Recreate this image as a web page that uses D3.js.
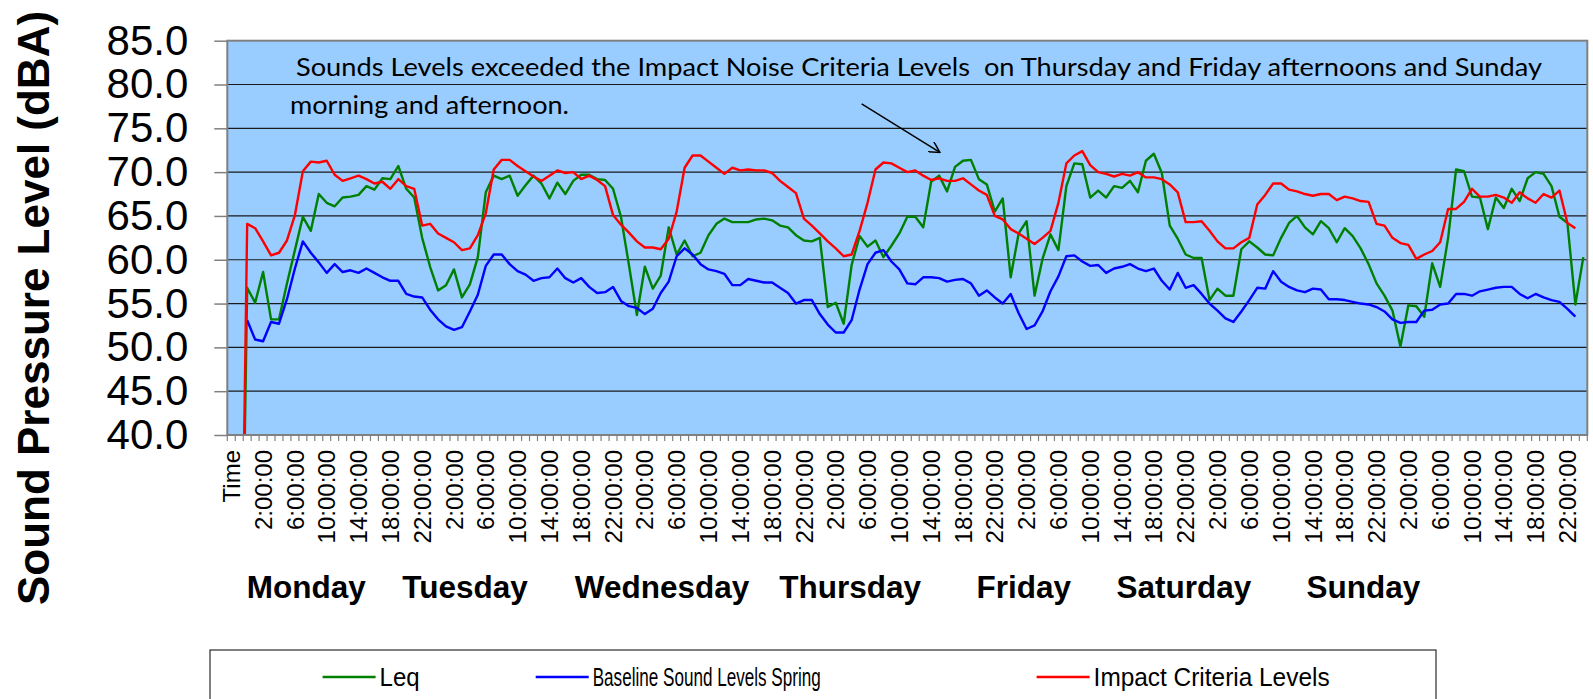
<!DOCTYPE html>
<html>
<head>
<meta charset="utf-8">
<script src="https://cdn.jsdelivr.net/npm/d3@7"></script>
<style>
  body { margin: 0; background: #fff; }
  text { font-family: "Liberation Sans", Arial, sans-serif; }
</style>
</head>
<body>
<div id="chart"></div>
<script>
// Tick labels: "Time" header, one blank row, then every hour Monday..Sunday, then midnight
const hours = ["0:00:00", "1:00:00", "2:00:00", "3:00:00", "4:00:00", "5:00:00",
  "6:00:00", "7:00:00", "8:00:00", "9:00:00", "10:00:00", "11:00:00",
  "12:00:00", "13:00:00", "14:00:00", "15:00:00", "16:00:00", "17:00:00",
  "18:00:00", "19:00:00", "20:00:00", "21:00:00", "22:00:00", "23:00:00"];
const days = ["Monday", "Tuesday", "Wednesday", "Thursday", "Friday", "Saturday", "Sunday"];
const categories = ["Time", ""].concat(...days.map(() => hours), ["0:00:00"]);

const yTicks = [40, 45, 50, 55, 60, 65, 70, 75, 80, 85];

// Leq (green)
const leq = [null, 0,
  56.8, 55.1, 58.6, 53.2, 53.2, 57.3, 61.1, 64.9, 63.3, 67.5, 66.5, 66.1,  // Mon
  67.1, 67.2, 67.4, 68.4, 68.0, 69.3, 69.2, 70.7, 68.1, 67.1, 62.5, 59.2,
  56.5, 57.1, 58.9, 55.7, 57.2, 60.3, 67.7, 69.6, 69.2, 69.6, 67.3, 68.5,  // Tue
  69.6, 68.7, 67.0, 68.8, 67.5, 69.0, 69.7, 69.7, 69.2, 69.1, 68.1, 64.9,
  59.4, 53.7, 59.2, 56.7, 58.2, 63.7, 60.6, 62.2, 60.4, 60.8, 62.8, 64.1,  // Wed
  64.7, 64.3, 64.3, 64.3, 64.6, 64.7, 64.5, 63.9, 63.7, 62.8, 62.2, 62.1,
  62.5, 54.6, 55.1, 52.7, 59.4, 62.7, 61.5, 62.2, 60.3, 61.6, 63.0, 64.9,  // Thu
  64.9, 63.7, 68.9, 69.6, 67.8, 70.6, 71.3, 71.4, 69.2, 68.6, 65.5, 67.0,
  58.0, 63.0, 64.4, 55.9, 60.1, 62.9, 61.1, 68.4, 71.0, 70.9, 67.1, 67.9,  // Fri
  67.1, 68.4, 68.2, 69.0, 67.7, 71.3, 72.1, 69.9, 63.9, 62.4, 60.6, 60.2,
  60.2, 55.4, 56.7, 55.9, 55.9, 61.2, 62.1, 61.4, 60.6, 60.5, 62.5, 64.2,  // Sat
  65.0, 63.7, 62.9, 64.4, 63.6, 62.0, 63.6, 62.7, 61.3, 59.5, 57.3, 55.9,
  54.2, 50.1, 54.8, 54.7, 53.5, 59.6, 56.9, 62.5, 70.3, 70.1, 67.2, 67.1,  // Sun
  63.5, 67.1, 65.9, 68.1, 66.7, 69.3, 70.0, 69.8, 68.4, 64.9, 64.2, 54.9,
  60.3];

// Baseline Sound Levels Spring (blue)
const baseline = [null, null,
  53.1, 50.9, 50.7, 52.9, 52.7, 55.5, 59.0, 62.1, 60.8, 59.7, 58.5, 59.5,
  58.6, 58.8, 58.5, 59.0, 58.5, 58.0, 57.6, 57.6, 56.1, 55.8, 55.7, 54.3,
  53.2, 52.4, 52.0, 52.3, 54.1, 56.0, 59.3, 60.6, 60.6, 59.5, 58.7, 58.3,
  57.6, 57.9, 58.0, 59.0, 57.9, 57.4, 57.9, 56.9, 56.2, 56.3, 56.9, 55.3,
  54.7, 54.5, 53.8, 54.4, 56.2, 57.5, 60.4, 61.3, 60.6, 59.5, 58.9, 58.7,
  58.4, 57.1, 57.1, 57.8, 57.6, 57.4, 57.4, 56.8, 56.2, 55.0, 55.4, 55.4,
  53.8, 52.6, 51.7, 51.7, 53.1, 56.6, 59.5, 60.8, 61.1, 59.8, 58.9, 57.3,
  57.2, 58.0, 58.0, 57.9, 57.5, 57.7, 57.8, 57.3, 55.9, 56.5, 55.7, 55.0,
  56.1, 53.9, 52.1, 52.5, 54.1, 56.4, 58.1, 60.4, 60.5, 59.8, 59.3, 59.4,
  58.5, 59.0, 59.2, 59.5, 59.0, 58.7, 59.0, 57.6, 56.6, 58.5, 56.8, 57.1,
  56.1, 55.0, 54.2, 53.3, 52.9, 54.1, 55.4, 56.8, 56.7, 58.7, 57.5, 56.9,
  56.5, 56.3, 56.7, 56.6, 55.5, 55.5, 55.4, 55.2, 55.0, 54.9, 54.6, 54.1,
  53.2, 52.8, 52.9, 52.9, 54.2, 54.3, 54.9, 55.0, 56.1, 56.1, 55.9, 56.4,
  56.6, 56.8, 56.9, 56.9, 56.1, 55.6, 56.1, 55.7, 55.4, 55.2, 54.4, 53.5,
  null];

// Impact Criteria Levels (red)
const impact = [null, 0,
  64.1, 63.6, 62.1, 60.5, 60.8, 62.2, 65.1, 70.1, 71.2, 71.1, 71.3, 69.7,
  69.0, 69.3, 69.6, 69.2, 68.7, 68.9, 68.1, 69.2, 68.4, 68.1, 63.9, 64.1,
  63.0, 62.5, 62.0, 61.1, 61.3, 62.8, 65.3, 70.3, 71.4, 71.4, 70.7, 70.1,
  69.5, 69.0, 69.6, 70.2, 69.9, 70.0, 69.2, 69.6, 69.1, 68.4, 65.1, 64.0,
  63.1, 62.1, 61.4, 61.4, 61.2, 62.4, 65.5, 70.5, 71.9, 71.9, 71.2, 70.5,
  69.8, 70.5, 70.2, 70.3, 70.2, 70.2, 69.9, 69.0, 68.3, 67.6, 64.7, 63.9,
  63.0, 62.1, 61.3, 60.4, 60.6, 63.3, 66.5, 70.3, 71.1, 71.0, 70.5, 70.0,
  70.2, 69.6, 69.1, 69.3, 69.0, 69.0, 69.3, 68.6, 67.9, 67.4, 65.0, 64.6,
  63.5, 63.0, 62.4, 61.8, 62.5, 63.3, 66.5, 71.0, 71.9, 72.4, 70.8, 70.0,
  69.8, 69.5, 69.8, 69.6, 70.0, 69.4, 69.4, 69.2, 68.6, 67.7, 64.3, 64.3,
  64.4, 63.3, 62.1, 61.3, 61.3, 62.0, 62.5, 66.3, 67.4, 68.7, 68.7, 68.0,
  67.8, 67.5, 67.3, 67.5, 67.5, 66.8, 67.2, 67.0, 66.7, 66.6, 64.1, 63.9,
  62.5, 61.9, 61.7, 60.1, 60.6, 61.0, 62.0, 65.8, 65.8, 66.6, 68.1, 67.2,
  67.2, 67.4, 67.1, 66.5, 67.7, 67.0, 66.5, 67.5, 67.1, 67.9, 64.2, 63.6,
  null];

const series = [
  { name: "Leq", values: leq, color: "#008000" },
  { name: "Baseline Sound Levels Spring", values: baseline, color: "#0000ff" },
  { name: "Impact Criteria Levels", values: impact, color: "#ff0000" }
];

// Layout
const width = 1593, height = 699;
const plot = { left: 227.3, right: 1587.3, top: 40.7, bottom: 435 };
// where the hand placed day names start, in category units
const dayLabelAt = [2.45, 22.0, 43.7, 69.4, 94.2, 111.8, 135.7];

const svg = d3.select("#chart").append("svg")
  .attr("width", width)
  .attr("height", height);

const idx = d3.range(categories.length);
const xScale = d3.scaleBand()
  .domain(idx)
  .range([plot.left, plot.right])
  .padding(0);
const xUnit = d3.scaleLinear()
  .domain([0, categories.length])
  .range([plot.left, plot.right]);
const yScale = d3.scaleLinear()
  .domain([40, 85])
  .range([plot.bottom, plot.top]);

// Plot background
svg.append("rect")
  .attr("x", plot.left).attr("y", plot.top)
  .attr("width", plot.right - plot.left)
  .attr("height", plot.bottom - plot.top)
  .attr("fill", "#99ccff");

// Gridlines
svg.append("g").selectAll("line")
  .data(yTicks.slice(1, -1))
  .enter().append("line")
  .attr("x1", plot.left).attr("x2", plot.right)
  .attr("y1", d => yScale(d)).attr("y2", d => yScale(d))
  .attr("stroke", "#1a1a1a")
  .attr("stroke-width", 1.2);

// Series lines, clipped to the plot
svg.append("clipPath").attr("id", "clip")
  .append("rect")
  .attr("x", plot.left).attr("y", plot.top)
  .attr("width", plot.right - plot.left)
  .attr("height", plot.bottom - plot.top);

const line = d3.line()
  .defined(d => d != null)
  .x((d, i) => xScale(i) + xScale.bandwidth() / 2)
  .y(d => yScale(d));

svg.append("g").attr("clip-path", "url(#clip)")
  .selectAll("path")
  .data(series)
  .enter().append("path")
  .attr("d", d => line(d.values))
  .attr("fill", "none")
  .attr("stroke", d => d.color)
  .attr("stroke-width", 2.4)
  .attr("stroke-linejoin", "round");

// Plot border
svg.append("rect")
  .attr("x", plot.left).attr("y", plot.top)
  .attr("width", plot.right - plot.left)
  .attr("height", plot.bottom - plot.top)
  .attr("fill", "none")
  .attr("stroke", "#808080")
  .attr("stroke-width", 2);

// Y axis
const yAxis = svg.append("g")
  .attr("transform", `translate(${plot.left},0)`)
  .call(d3.axisLeft(yScale).tickValues(yTicks).tickFormat(d3.format(".1f"))
    .tickSize(13).tickPadding(26));
yAxis.select(".domain").remove();
yAxis.selectAll("line").attr("stroke", "#808080").attr("stroke-width", 1.5);
yAxis.selectAll("text")
  .attr("font-size", 42)
  .attr("fill", "#000")
  .style("font-family", "'Liberation Sans', Arial, sans-serif");

// X axis: one tick mark per category boundary
svg.append("g").selectAll("line")
  .data(d3.range(categories.length + 1))
  .enter().append("line")
  .attr("x1", d => xUnit(d)).attr("x2", d => xUnit(d))
  .attr("y1", plot.bottom).attr("y2", plot.bottom + 6)
  .attr("stroke", "#808080")
  .attr("stroke-width", 1.2);

const xAxis = svg.append("g")
  .attr("transform", `translate(0,${plot.bottom})`)
  .call(d3.axisBottom(xScale)
    .tickValues(idx.filter(i => i % 4 === 0))
    .tickFormat(i => categories[i])
    .tickSize(0));
xAxis.select(".domain").remove();
xAxis.selectAll("text")
  .attr("transform", "rotate(-90)")
  .attr("x", -15)
  .attr("y", 0)
  .attr("dy", "0.36em")
  .attr("font-size", 24)
  .attr("fill", "#000")
  .style("text-anchor", "end")
  .style("font-family", "'Liberation Sans', Arial, sans-serif");

// Day names under the hour labels
svg.append("g").selectAll("text")
  .data(days)
  .enter().append("text")
  .attr("x", (d, i) => xUnit(dayLabelAt[i]))
  .attr("y", 598)
  .attr("font-size", 31.5)
  .attr("font-weight", "bold")
  .text(d => d);

// Y axis title
svg.append("text")
  .attr("transform", "translate(49,308) rotate(-90)")
  .attr("text-anchor", "middle")
  .attr("font-size", 44)
  .attr("font-weight", "bold")
  .text("Sound Pressure Level (dBA)");

// Note and arrow
svg.append("text")
  .attr("x", 296).attr("y", 76)
  .attr("font-size", 25)
  .attr("textLength", 1246)
  .attr("lengthAdjust", "spacingAndGlyphs")
  .style("font-family", "Lato, 'Open Sans', sans-serif")
  .attr("xml:space", "preserve")
  .text("Sounds Levels exceeded the Impact Noise Criteria Levels  on Thursday and Friday afternoons and Sunday");
svg.append("text")
  .attr("x", 290).attr("y", 114)
  .attr("font-size", 25)
  .attr("textLength", 279)
  .attr("lengthAdjust", "spacingAndGlyphs")
  .style("font-family", "Lato, 'Open Sans', sans-serif")
  .text("morning and afternoon.");

svg.append("defs").append("marker")
  .attr("id", "arrow")
  .attr("viewBox", "0 0 12 12")
  .attr("refX", 11).attr("refY", 6)
  .attr("markerWidth", 12).attr("markerHeight", 12)
  .attr("markerUnits", "userSpaceOnUse")
  .attr("orient", "auto")
  .append("path")
  .attr("d", "M0,0 L11,6 L0,12")
  .attr("fill", "none")
  .attr("stroke", "#000")
  .attr("stroke-width", 1.5);

svg.append("line")
  .attr("x1", xUnit(79.76)).attr("y1", yScale(77.8))
  .attr("x2", xUnit(89.6)).attr("y2", yScale(72.25))
  .attr("stroke", "#000")
  .attr("stroke-width", 1.5)
  .attr("marker-end", "url(#arrow)");

// Legend
const legend = svg.append("g");
legend.append("rect")
  .attr("x", 210).attr("y", 650)
  .attr("width", 1226).attr("height", 70)
  .attr("fill", "#fff")
  .attr("stroke", "#000")
  .attr("stroke-width", 1);

const legendX = [322.6, 535.7, 1036.6];
const legendW = [40, 228, 236];
const items = legend.selectAll("g.item")
  .data(series)
  .enter().append("g")
  .attr("transform", (d, i) => `translate(${legendX[i]},677)`);
items.append("line")
  .attr("x1", 0).attr("x2", 53)
  .attr("stroke", d => d.color)
  .attr("stroke-width", 2.5);
items.append("text")
  .attr("x", 57)
  .attr("y", 9)
  .attr("font-size", 25)
  .attr("textLength", (d, i) => legendW[i])
  .attr("lengthAdjust", "spacingAndGlyphs")
  .text(d => d.name);
</script>
</body>
</html>
